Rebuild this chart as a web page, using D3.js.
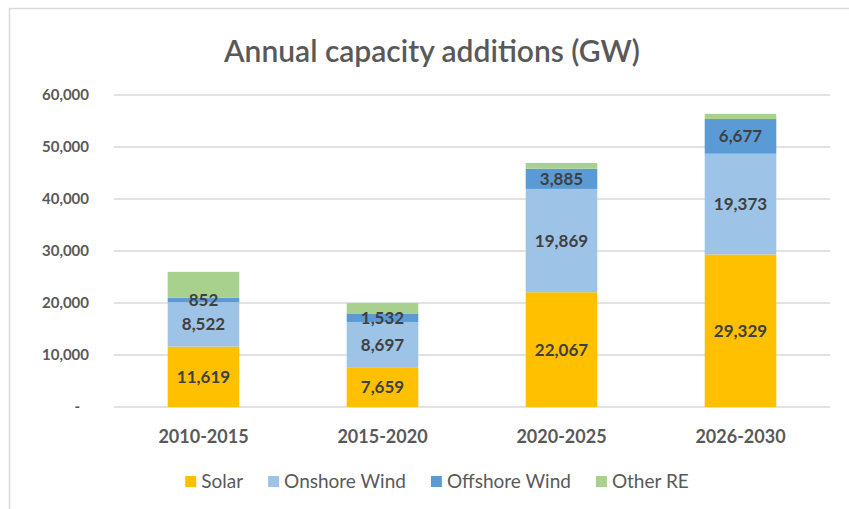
<!DOCTYPE html>
<html>
<head>
<meta charset="utf-8">
<script src="https://cdn.jsdelivr.net/npm/d3@7"></script>
<style>
  html, body { margin: 0; padding: 0; background: #fff; }
  svg { display: block; font-family: Lato, "Open Sans", sans-serif; }
</style>
</head>
<body>
<svg id="chart" width="849" height="509"></svg>
<script>
// data
const categories = ['2010-2015', '2015-2020', '2020-2025', '2026-2030'];
const seriesNames = ['Solar', 'Onshore Wind', 'Offshore Wind', 'Other RE'];
const solar = [11619, 7659, 22067, 29329];
const onshoreWind = [8522, 8697, 19869, 19373];
const offshoreWind = [852, 1532, 3885, 6677];
const otherRE = [5000, 2100, 1100, 1000];   // not labelled
const yTicks = [0, 10000, 20000, 30000, 40000, 50000, 60000];

const colors = ['#FFC000', '#9DC3E6', '#5B9BD5', '#A9D18E'];
const labelled = [true, true, true, false];

const svg = d3.select('#chart');

// chart border (right/bottom edges fall outside the picture)
svg.append('rect')
    .attr('x', 9.5).attr('y', 8.5)
    .attr('width', 900).attr('height', 600)
    .attr('fill', 'none')
    .attr('stroke', '#d9d9d9')
    .attr('stroke-width', 1.5);

// title
svg.append('text')
    .attr('x', 432).attr('y', 62)
    .attr('text-anchor', 'middle')
    .attr('fill', '#595959')
    .style('font-size', '30px')
    .style('font-weight', 600)
    .text('Annual capacity additions (GW)');

const x = d3.scaleBand()
    .domain(categories)
    .range([114, 830])
    .paddingInner(0.6)
    .paddingOuter(0.3);

const y = d3.scaleLinear()
    .domain([0, 60000])
    .range([407, 95]);

// gridlines
svg.append('g')
    .selectAll('line')
    .data(yTicks)
    .join('line')
    .attr('x1', 114).attr('x2', 830)
    .attr('y1', d => y(d)).attr('y2', d => y(d))
    .attr('stroke', '#d9d9d9')
    .attr('stroke-width', 1.5);

// y axis labels
const fmt = d3.format(',');
svg.append('g')
    .selectAll('text')
    .data(yTicks)
    .join('text')
    .attr('x', d => d === 0 ? 80 : 89)
    .attr('y', d => y(d))
    .attr('dy', '0.35em')
    .attr('text-anchor', 'end')
    .attr('fill', '#595959')
    .style('font-size', '15px')
    .style('font-weight', 'bold')
    .text(d => d === 0 ? '-' : fmt(d));

// stack
const table = categories.map((c, i) => ({
    cat: c,
    'Solar': solar[i],
    'Onshore Wind': onshoreWind[i],
    'Offshore Wind': offshoreWind[i],
    'Other RE': otherRE[i]
}));
const stacked = d3.stack().keys(seriesNames)(table);

const layers = svg.append('g')
    .selectAll('g')
    .data(stacked)
    .join('g')
    .attr('fill', (d, i) => colors[i]);

layers.selectAll('rect')
    .data(d => d)
    .join('rect')
    .attr('x', d => x(d.data.cat))
    .attr('width', x.bandwidth())
    .attr('y', d => y(d[1]))
    .attr('height', d => y(d[0]) - y(d[1]));

// data labels
const labels = svg.append('g');
stacked.forEach((layer, li) => {
    if (!labelled[li]) return;
    labels.selectAll(null)
        .data(layer)
        .join('text')
        .attr('x', d => x(d.data.cat) + x.bandwidth() / 2)
        .attr('y', d => (y(d[0]) + y(d[1])) / 2)
        .attr('dy', '0.35em')
        .attr('text-anchor', 'middle')
        .attr('fill', '#404040')
        .style('font-size', '17px')
        .style('font-weight', 'bold')
        .text(d => fmt(d[1] - d[0]));
});

// category labels
svg.append('g')
    .selectAll('text')
    .data(categories)
    .join('text')
    .attr('x', d => x(d) + x.bandwidth() / 2)
    .attr('y', 443)
    .attr('text-anchor', 'middle')
    .attr('fill', '#595959')
    .style('font-size', '18px')
    .style('font-weight', 'bold')
    .text(d => d);

// legend, laid out from measured text widths and centred
const legend = svg.append('g');
const items = legend.selectAll('g')
    .data(seriesNames)
    .join('g');
items.append('rect')
    .attr('width', 11).attr('height', 11)
    .attr('y', -12)
    .attr('fill', (d, i) => colors[i]);
items.append('text')
    .attr('x', 16)
    .attr('fill', '#595959')
    .style('font-size', '19px')
    .text(d => d);

let cursor = 0;
items.each(function () {
    const g = d3.select(this);
    g.attr('transform', `translate(${cursor},0)`);
    cursor += 16 + g.select('text').node().getComputedTextLength() + 25;
});
const total = cursor - 25;
legend.attr('transform', `translate(${437 - total / 2},488)`);
</script>
</body>
</html>
